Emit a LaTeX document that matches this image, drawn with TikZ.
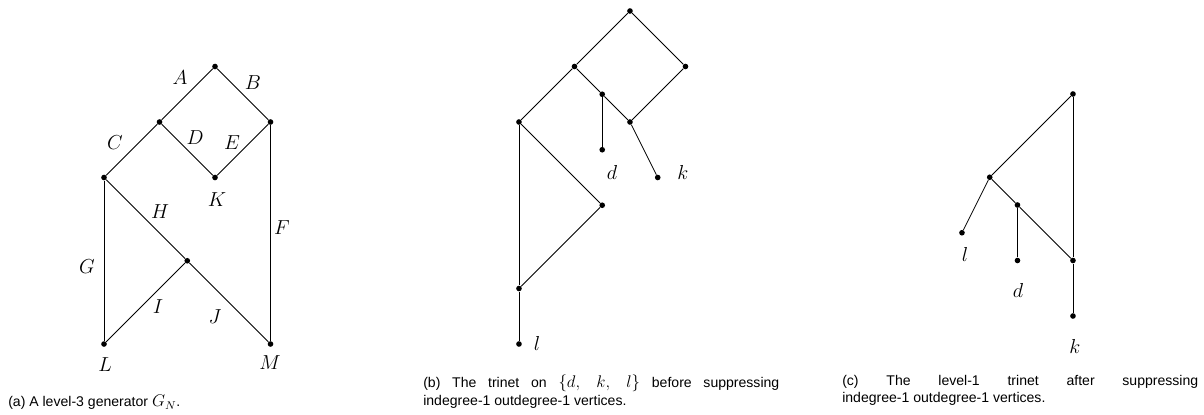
\documentclass[tikz,border=0pt]{standalone}
\usepackage{amsmath,amssymb}
\usepackage{fontspec}
\newfontfamily\capfont{Liberation Sans}
\usepackage{tikz}
\usetikzlibrary{positioning}
\newcommand{\capmath}[1]{{\fontsize{11.5}{12.6}\selectfont$#1$}}

\begin{document}
\begin{tikzpicture}[
    x=1.3875cm, y=1.3875cm,
    vertex/.style={circle, fill=black, inner sep=0pt, minimum size=4pt},
    edge/.style={line width=0.6pt},
    elabel/.style={inner sep=0pt, font=\fontsize{14}{16}\selectfont},
    caption/.style={inner sep=0pt, font=\capfont\fontsize{10}{12.6}\selectfont}
]
    \useasboundingbox (-1.8739,-1.2613) rectangle (19.8198,6.1982);

    % (a) the generator
    \node[vertex] (aL) at (0,0) {};
    \node[vertex] (aM) at (3,0) {};
    \node[vertex] (aw) at (0,3) {};
    \node[vertex] (ac) at (1.5,1.5) {};
    \node[vertex] (au) at (1,4) {};
    \node[vertex] (aK) at (2,3) {};
    \node[vertex] (av) at (3,4) {};
    \node[vertex] (at) at (2,5) {};

    \draw[edge] (at) -- (au);
    \draw[edge] (at) -- (av);
    \draw[edge] (au) -- (aw);
    \draw[edge] (au) -- (aK);
    \draw[edge] (av) -- (aK);
    \draw[edge] (av) -- (aM);
    \draw[edge] (aw) -- (aL);
    \draw[edge] (aw) -- (ac);
    \draw[edge] (ac) -- (aL);
    \draw[edge] (ac) -- (aM);

    \node[elabel] (lA) at (1.369,4.793) {$A$};
    \node[elabel] (lB) at (2.685,4.703) {$B$};
    \node[elabel] (lC) at (0.198,3.622) {$C$};
    \node[elabel] (lD) at (1.640,3.712) {$D$};
    \node[elabel] (lE) at (2.306,3.622) {$E$};
    \node[elabel] (lK) at (2.036,2.595) {$K$};
    \node[elabel] (lH) at (1.009,2.378) {$H$};
    \node[elabel] (lF) at (3.207,2.090) {$F$};
    \node[elabel] (lG) at (-0.306,1.387) {$G$};
    \node[elabel] (lI) at (0.973,0.667) {$I$};
    \node[elabel] (lJ) at (2.0,0.486) {$J$};
    \node[elabel] (lL) at (0.018,-0.378) {$L$};
    \node[elabel] (lM) at (2.991,-0.342) {$M$};

    \node[caption, anchor=base west] (capa) at (-1.730,-1.135) {(a) A level-3 generator \capmath{G_N}.};

    % (b) trinet before suppressing
    \begin{scope}[shift={(7.477,0)}]
        \node[vertex] (bl) at (0,0) {};
        \node[vertex] (bbot) at (0,1) {};
        \node[vertex] (bmid) at (1.5,2.5) {};
        \node[vertex] (bleft) at (0,4) {};
        \node[vertex] (bd) at (1.5,3.5) {};
        \node[vertex] (bk) at (2.5,3) {};
        \node[vertex] (bdp) at (1.5,4.5) {};
        \node[vertex] (bkp) at (2,4) {};
        \node[vertex] (bu) at (1,5) {};
        \node[vertex] (bv) at (3,5) {};
        \node[vertex] (btop) at (2,6) {};

        \draw[edge] (btop) -- (bu);
        \draw[edge] (btop) -- (bv);
        \draw[edge] (bu) -- (bleft);
        \draw[edge] (bu) -- (bdp);
        \draw[edge] (bdp) -- (bkp);
        \draw[edge] (bv) -- (bkp);
        \draw[edge] (bdp) -- (bd);
        \draw[edge] (bkp) -- (bk);
        \draw[edge] (bleft) -- (bbot);
        \draw[edge] (bleft) -- (bmid);
        \draw[edge] (bmid) -- (bbot);
        \draw[edge] (bbot) -- (bl);

        \node[elabel] (ld) at (1.676,3.099) {$d$};
        \node[elabel] (lk) at (2.955,3.099) {$k$};
        \node[elabel] (ll) at (0.324,0.018) {$l$};
    \end{scope}

    \node[caption, anchor=north west, text width=8.9cm, align=justify] (capb) at (5.748,-0.551)
        {(b) The trinet on \capmath{\{d,\ k,\ l\}} before suppressing\linebreak indegree-1 outdegree-1 vertices.};

    % (c) level-1 trinet
    \begin{scope}[shift={(15.459,0.5045)}]
        \node[vertex] (cl) at (0,1.5) {};
        \node[vertex] (cp) at (0.5,2.5) {};
        \node[vertex] (cq) at (1,2) {};
        \node[vertex] (cd) at (1,1) {};
        \node[vertex] (ckp) at (2,1) {};
        \node[vertex] (ck) at (2,0) {};
        \node[vertex] (ctop) at (2,4) {};

        \draw[edge] (ctop) -- (cp);
        \draw[edge] (ctop) -- (ckp);
        \draw[edge] (cp) -- (cl);
        \draw[edge] (cp) -- (cq);
        \draw[edge] (cq) -- (cd);
        \draw[edge] (cq) -- (ckp);
        \draw[edge] (ckp) -- (ck);

        \node[elabel] (cll) at (0.054,1.117) {$l$};
        \node[elabel] (cld) at (1.009,0.468) {$d$};
        \node[elabel] (clk) at (2.036,-0.541) {$k$};
    \end{scope}

    \node[caption, anchor=north west, text width=8.9cm, align=justify] (capc) at (13.297,-0.551)
        {(c) The level-1 trinet after suppressing\linebreak indegree-1 outdegree-1 vertices.};
\end{tikzpicture}
\end{document}
